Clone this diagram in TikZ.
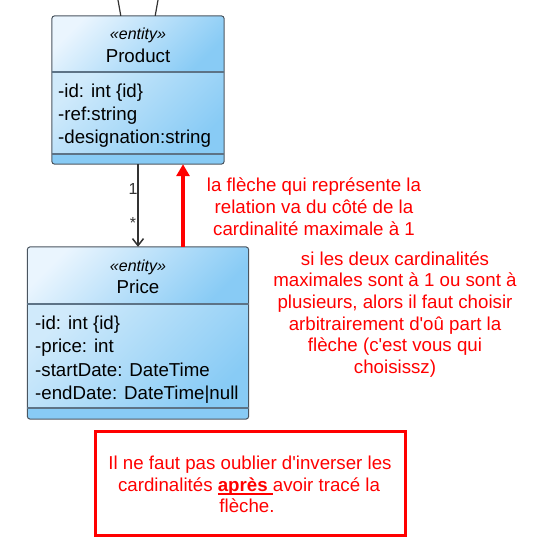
\documentclass[tikz,border=0pt]{standalone}
\usepackage{fontspec}
\setmainfont[Ligatures=TeXOff]{Liberation Sans}
\usetikzlibrary{arrows.meta}
\definecolor{boxtop}{HTML}{EAF5FE}
\definecolor{bodytop}{HTML}{D0EAFB}
\definecolor{boxbot}{HTML}{88CBF5}
\definecolor{boxline}{HTML}{4A5560}
\definecolor{sepline}{HTML}{5D7386}
\definecolor{assoccol}{HTML}{333333}
\newcommand\myul[1]{\setbox0\hbox{#1}\rlap{\rule[-3.5pt]{\wd0}{1.6pt}}\box0}
\tikzset{
 umlgeom/.style={inner sep=0, draw=none},
 umlborder/.style={draw=boxline, line width=1pt, rounded corners=3pt},
 headshade/.style={top color=boxtop, bottom color=boxbot, shading angle=45},
 bodyshade/.style={top color=bodytop, bottom color=boxbot, shading angle=45},
 sepl/.style={draw=sepline, line width=1.6pt},
 attr/.style={anchor=base west, inner sep=0, font=\fontsize{18.7}{22}\selectfont},
 ster/.style={anchor=base, inner sep=0, font=\fontsize{16}{19}\selectfont\itshape},
 cname/.style={anchor=base, inner sep=0, font=\fontsize{18.7}{22}\selectfont},
 notetxt/.style={anchor=base, inner sep=0, text=red, font=\fontsize{18.7}{22}\selectfont},
 mult/.style={anchor=base, inner sep=0, text=assoccol, font=\fontsize{16}{19}\selectfont},
 assoc/.style={draw=assoccol, line width=1.5pt, -{Straight Barb[length=7pt,width=11pt]}},
 assocline/.style={draw=assoccol, line width=1.2pt},
 redarrow/.style={draw=red, line width=3.5pt, -{Triangle[length=12pt,width=13pt]}},
 redframe/.style={draw=red, line width=3pt, inner sep=0},
}
\begin{document}
\begin{tikzpicture}[x=1pt,y=-1pt]
\useasboundingbox (0,0) rectangle (534,539);

% Product
\node[umlgeom, minimum width=172pt, minimum height=148pt] (product) at (138,90) {};
\begin{scope}
\clip[rounded corners=3pt] (product.north west) rectangle (product.south east);
\shade[headshade] (product.north west) rectangle ([yshift=-56pt]product.north east);
\shade[bodyshade] ([yshift=-56pt]product.north west) rectangle ([yshift=-138pt]product.north east);
\fill[boxbot] ([yshift=-138pt]product.north west) rectangle (product.south east);
\end{scope}
\draw[umlborder] (product.north west) rectangle (product.south east);
\draw[sepl] ([yshift=-56pt]product.north west) -- ([yshift=-56pt]product.north east);
\draw[sepl] ([yshift=-138pt]product.north west) -- ([yshift=-138pt]product.north east);
\node[ster] (pst) at (138,39) {«entity»};
\node[cname] (pname) at (138,62) {Product};
\node[attr] (pa1) at (58,97) {-id: int \{id\}};
\node[attr] (pa2) at (58,120) {-ref:string};
\node[attr] (pa3) at (58,143) {-designation:string};

% Price
\node[umlgeom, minimum width=221pt, minimum height=172pt] (price) at (138,333) {};
\begin{scope}
\clip[rounded corners=3pt] (price.north west) rectangle (price.south east);
\shade[headshade] (price.north west) rectangle ([yshift=-57pt]price.north east);
\shade[bodyshade] ([yshift=-57pt]price.north west) rectangle ([yshift=-161pt]price.north east);
\fill[boxbot] ([yshift=-161pt]price.north west) rectangle (price.south east);
\end{scope}
\draw[umlborder] (price.north west) rectangle (price.south east);
\draw[sepl] ([yshift=-57pt]price.north west) -- ([yshift=-57pt]price.north east);
\draw[sepl] ([yshift=-161pt]price.north west) -- ([yshift=-161pt]price.north east);
\node[ster] (rst) at (138,271) {«entity»};
\node[cname] (rname) at (138,293) {Price};
\node[attr] (ra1) at (35,329) {-id: int \{id\}};
\node[attr] (ra2) at (35,352.5) {-price: int};
\node[attr] (ra3) at (35,376) {-startDate: DateTime};
\node[attr] (ra4) at (35,399.5) {-endDate: DateTime|null};

% lines coming from above
\coordinate (ta) at (118,0);
\coordinate (tb) at (158,0);
\draw[assocline] (ta) -- ([xshift=69pt]product.north west);
\draw[assocline] (tb) -- ([xshift=-69pt]product.north east);

% association
\draw[assoc] (product.south) -- (price.north);
\node[mult] (m1) at (133,194) {1};
\node[mult] (m2) at (133,228) {*};

% red arrow
\coordinate (rx) at (183,0);
\draw[redarrow] (rx |- price.north) -- (rx |- product.south);

% red notes
\node[notetxt] (n1a) at (314,191) {la flèche qui représente la};
\node[notetxt] (n1b) at (314,213) {relation va du côté de la};
\node[notetxt] (n1c) at (314,235) {cardinalité maximale à 1};

\node[notetxt] (n2a) at (395,265) {si les deux cardinalités};
\node[notetxt] (n2b) at (395,286.7) {maximales sont à 1 ou sont à};
\node[notetxt] (n2c) at (395,308.4) {plusieurs, alors il faut choisir};
\node[notetxt] (n2d) at (395,330) {arbitrairement d'oû part la};
\node[notetxt] (n2e) at (395,351.8) {flèche (c'est vous qui};
\node[notetxt] (n2f) at (395,373.5) {choisissz)};

% bottom frame
\node[redframe, minimum width=310pt, minimum height=104pt] (frame) at (250,483) {};
\node[notetxt] (f1) at (250,469.5) {Il ne faut pas oublier d'inverser les};
\node[notetxt] (f2) at (249,491) {cardinalités \myul{\textbf{après}\ }avoir tracé la};
\node[notetxt] (f3) at (247,512.5) {flèche.};
\end{tikzpicture}
\end{document}
